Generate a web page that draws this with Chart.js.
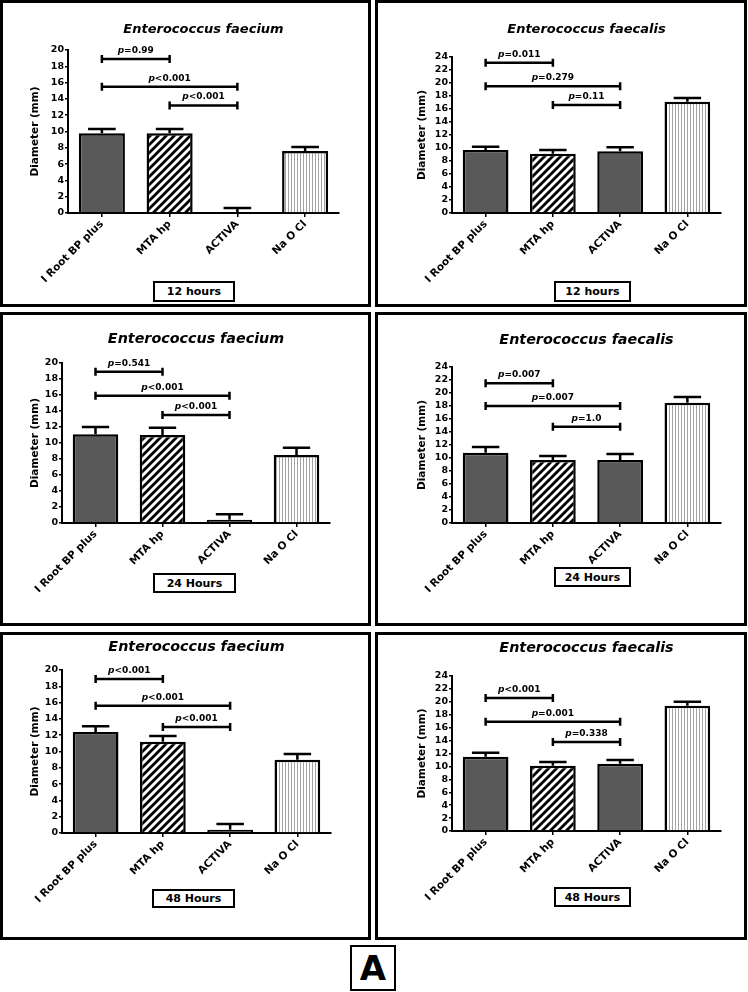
<!DOCTYPE html>
<html>
<head>
<meta charset="utf-8">
<script src="https://cdn.jsdelivr.net/npm/chart.js@4.4.1/dist/chart.umd.min.js"></script>
<style>
  body { margin: 0; background: #fff; width: 748px; height: 992px; position: relative; overflow: hidden; font-family: 'DejaVu Sans', sans-serif; }
  .panel { position: absolute; border: 3px solid #000; box-sizing: border-box; }
  .panel canvas { position: absolute; left: 0; top: 0; }
  .tag { position: absolute; border: 2px solid #000; box-sizing: border-box; background: #fff;
         font-weight: bold; font-size: 11px; text-align: center; display: flex; align-items: center; justify-content: center; }
  .letter { position: absolute; left: 350px; top: 945px; width: 46px; height: 46px; border: 2px solid #000; box-sizing: border-box;
            font-weight: bold; font-size: 34px; display: flex; align-items: center; justify-content: center; }
</style>
</head>
<body>
<div class="letter">A</div>
<script>
// ---- data ----
const categories = ['I Root BP plus', 'MTA hp', 'ACTIVA', 'Na O Cl'];
const comparisons = [[0, 1], [0, 2], [1, 2]];

const faecium12h = [9.8, 9.8, 0.1, 7.6];
const faecium12hSD = [0.5, 0.5, 0.5, 0.5];
const faecium12hP = ['p=0.99', 'p<0.001', 'p<0.001'];
const faecium12hPY = [18.9, 15.5, 13.2];

const faecalis12h = [9.7, 9.1, 9.5, 17.1];
const faecalis12hSD = [0.5, 0.6, 0.6, 0.6];
const faecalis12hP = ['p=0.011', 'p=0.279', 'p=0.11'];
const faecalis12hPY = [23.1, 19.5, 16.6];

const faecium24h = [11.1, 11.0, 0.4, 8.5];
const faecium24hSD = [0.9, 0.9, 0.7, 0.9];
const faecium24hP = ['p=0.541', 'p<0.001', 'p<0.001'];
const faecium24hPY = [18.9, 15.9, 13.5];

const faecalis24h = [10.8, 9.7, 9.7, 18.5];
const faecalis24hSD = [0.9, 0.6, 0.9, 0.9];
const faecalis24hP = ['p=0.007', 'p=0.007', 'p=1.0'];
const faecalis24hPY = [21.5, 18.0, 14.8];

const faecium48h = [12.4, 11.2, 0.4, 9.0];
const faecium48hSD = [0.7, 0.7, 0.7, 0.7];
const faecium48hP = ['p<0.001', 'p<0.001', 'p<0.001'];
const faecium48hPY = [18.9, 15.6, 13.0];

const faecalis48h = [11.5, 10.1, 10.4, 19.4];
const faecalis48hSD = [0.6, 0.6, 0.6, 0.6];
const faecalis48hP = ['p<0.001', 'p=0.001', 'p=0.338'];
const faecalis48hPY = [20.6, 16.9, 13.8];

const FONT = 'DejaVu Sans';

// ---- fill patterns ----
function hatchPattern() {
  const s = 8;
  const c = document.createElement('canvas');
  c.width = c.height = s;
  const g = c.getContext('2d');
  g.fillStyle = '#fff';
  g.fillRect(0, 0, s, s);
  g.strokeStyle = '#000';
  g.lineWidth = 2.8;
  g.beginPath();
  g.moveTo(-1, s + 1); g.lineTo(s + 1, -1);
  g.moveTo(-1, 1); g.lineTo(1, -1);
  g.moveTo(s - 1, s + 1); g.lineTo(s + 1, s - 1);
  g.stroke();
  return g.createPattern(c, 'repeat');
}
function stripePattern() {
  const c = document.createElement('canvas');
  c.width = 3; c.height = 4;
  const g = c.getContext('2d');
  g.fillStyle = '#fff';
  g.fillRect(0, 0, 3, 4);
  g.fillStyle = '#a3a3a3';
  g.fillRect(0, 0, 1, 4);
  return g.createPattern(c, 'repeat');
}
const DARK = '#595959';
const fills = [DARK, hatchPattern(), DARK, stripePattern()];

// ---- error bars + significance brackets ----
const annotations = {
  id: 'annotations',
  afterDatasetsDraw(chart, args, opts) {
    const ctx = chart.ctx;
    const y = chart.scales.y;
    const bars = chart.getDatasetMeta(0).data;
    ctx.save();
    ctx.strokeStyle = '#000';
    ctx.lineWidth = 2.5;
    ctx.lineCap = 'butt';
    // upper error bars
    bars.forEach((bar, i) => {
      const top = y.getPixelForValue(opts.means[i] + opts.sd[i]);
      const cap = bar.width * 0.3;
      ctx.beginPath();
      ctx.moveTo(bar.x, bar.y);
      ctx.lineTo(bar.x, top);
      ctx.moveTo(bar.x - cap, top);
      ctx.lineTo(bar.x + cap, top);
      ctx.stroke();
    });
    // brackets
    opts.pairs.forEach((pair, k) => {
      const x1 = bars[pair[0]].x, x2 = bars[pair[1]].x;
      const py = y.getPixelForValue(opts.levels[k]);
      ctx.beginPath();
      ctx.moveTo(x1, py); ctx.lineTo(x2, py);
      ctx.moveTo(x1, py - 4); ctx.lineTo(x1, py + 4);
      ctx.moveTo(x2, py - 4); ctx.lineTo(x2, py + 4);
      ctx.stroke();
      const rest = opts.labels[k].slice(1);
      ctx.font = 'italic bold 9px "' + FONT + '"';
      const wp = ctx.measureText('p').width;
      ctx.font = 'bold 9px "' + FONT + '"';
      const wr = ctx.measureText(rest).width;
      let tx = (x1 + x2) / 2 - (wp + wr) / 2;
      ctx.fillStyle = '#000';
      ctx.textBaseline = 'alphabetic';
      ctx.textAlign = 'left';
      ctx.font = 'italic bold 9px "' + FONT + '"';
      ctx.fillText('p', tx, py - 6);
      ctx.font = 'bold 9px "' + FONT + '"';
      ctx.fillText(rest, tx + wp, py - 6);
    });
    ctx.restore();
  }
};

// ---- panel layout (absolute page pixels) ----
const panels = [
  { title: 'Enterococcus faecium', means: faecium12h, sd: faecium12hSD, labels: faecium12hP, levels: faecium12hPY, yMax: 20, tag: '12 hours',
    rect: [0, 0, 371, 307], area: [68, 50, 339, 213], titleY: 30, titleSize: 13, yTitleX: 35, tagRect: [153, 281, 82, 21] },
  { title: 'Enterococcus faecalis', means: faecalis12h, sd: faecalis12hSD, labels: faecalis12hP, levels: faecalis12hPY, yMax: 24, tag: '12 hours',
    rect: [375, 0, 372, 307], area: [452, 57, 721, 213], titleY: 30, titleSize: 13, yTitleX: 422, tagRect: [554, 281, 77, 21] },
  { title: 'Enterococcus faecium', means: faecium24h, sd: faecium24hSD, labels: faecium24hP, levels: faecium24hPY, yMax: 20, tag: '24 Hours',
    rect: [0, 312, 371, 314], area: [62, 363, 330, 523], titleY: 339.5, titleSize: 14.3, yTitleX: 35, tagRect: [153, 573, 83, 20] },
  { title: 'Enterococcus faecalis', means: faecalis24h, sd: faecalis24hSD, labels: faecalis24hP, levels: faecalis24hPY, yMax: 24, tag: '24 Hours',
    rect: [375, 312, 372, 314], area: [452, 367, 721, 523], titleY: 340, titleSize: 14.3, yTitleX: 422, tagRect: [554, 567, 77, 20] },
  { title: 'Enterococcus faecium', means: faecium48h, sd: faecium48hSD, labels: faecium48hP, levels: faecium48hPY, yMax: 20, tag: '48 Hours',
    rect: [0, 632, 371, 308], area: [62, 670, 331, 833], titleY: 647.5, titleSize: 14.3, yTitleX: 35, tagRect: [152, 889, 83, 19] },
  { title: 'Enterococcus faecalis', means: faecalis48h, sd: faecalis48hSD, labels: faecalis48hP, levels: faecalis48hPY, yMax: 24, tag: '48 Hours',
    rect: [375, 632, 372, 308], area: [452, 676, 721, 831], titleY: 648, titleSize: 14.3, yTitleX: 422, tagRect: [554, 887, 77, 20] },
];

function makePanel(p) {
  const div = document.createElement('div');
  div.className = 'panel';
  div.style.left = p.rect[0] + 'px';
  div.style.top = p.rect[1] + 'px';
  div.style.width = p.rect[2] + 'px';
  div.style.height = p.rect[3] + 'px';
  const canvas = document.createElement('canvas');
  const ox = p.rect[0] + 3, oy = p.rect[1] + 3;
  const cw = p.rect[2] - 6, ch = p.rect[3] - 6;
  canvas.width = cw; canvas.height = ch;
  div.appendChild(canvas);
  document.body.appendChild(div);

  const tag = document.createElement('div');
  tag.className = 'tag';
  tag.textContent = p.tag;
  tag.style.left = p.tagRect[0] + 'px';
  tag.style.top = p.tagRect[1] + 'px';
  tag.style.width = p.tagRect[2] + 'px';
  tag.style.height = p.tagRect[3] + 'px';
  document.body.appendChild(tag);

  // chart area in canvas coordinates
  const left = p.area[0] - ox, top = p.area[1] - oy, right = p.area[2] - ox, bottom = p.area[3] - oy;
  const titleCy = p.titleY - oy;
  const lh = p.titleSize * 1.2;
  const yTitleSize = 10.5;
  const yAxisW = left - (p.yTitleX - ox - yTitleSize * 1.2 / 2 - 2);

  new Chart(canvas, {
    type: 'bar',
    data: {
      labels: categories,
      datasets: [{
        data: p.means,
        backgroundColor: fills,
        borderColor: '#000',
        borderWidth: 2.5,
        categoryPercentage: 1,
        barPercentage: 0.68,
      }]
    },
    options: {
      responsive: false,
      animation: false,
      devicePixelRatio: 1,
      layout: { padding: { left: left - yAxisW, right: cw - right, top: 0, bottom: 0 } },
      plugins: {
        legend: { display: false },
        tooltip: { enabled: false },
        title: {
          display: true,
          text: p.title,
          fullSize: false,
          color: '#000',
          font: { family: FONT, size: p.titleSize, style: 'italic', weight: 'bold' },
          padding: { top: titleCy - lh / 2, bottom: top - titleCy - lh / 2 },
        },
        annotations: { means: p.means, sd: p.sd, labels: p.labels, levels: p.levels, pairs: comparisons },
      },
      scales: {
        x: {
          afterFit: (scale) => { scale.height = ch - bottom; },
          grid: { display: true, drawOnChartArea: false, drawTicks: true, tickLength: 4, offset: false, color: '#000', lineWidth: 1.5 },
          border: { display: true, color: '#000', width: 2 },
          ticks: { color: '#000', font: { family: FONT, size: 10.5, weight: 'bold' }, minRotation: 45, maxRotation: 45, autoSkip: false, padding: 1 },
        },
        y: {
          min: 0,
          max: p.yMax,
          afterFit: (scale) => { scale.width = yAxisW; },
          grid: { display: true, drawOnChartArea: false, drawTicks: true, tickLength: 3, color: '#000', lineWidth: 1.5 },
          border: { display: true, color: '#000', width: 2 },
          ticks: { stepSize: 2, autoSkip: false, color: '#000', font: { family: FONT, size: 9.5, weight: 'bold' }, padding: 1 },
          title: { display: true, text: 'Diameter (mm)', color: '#000', font: { family: FONT, size: yTitleSize, weight: 'bold' }, padding: { top: 2, bottom: 0 } },
        }
      }
    },
    plugins: [annotations]
  });
}

panels.forEach(makePanel);
</script>
</body>
</html>
